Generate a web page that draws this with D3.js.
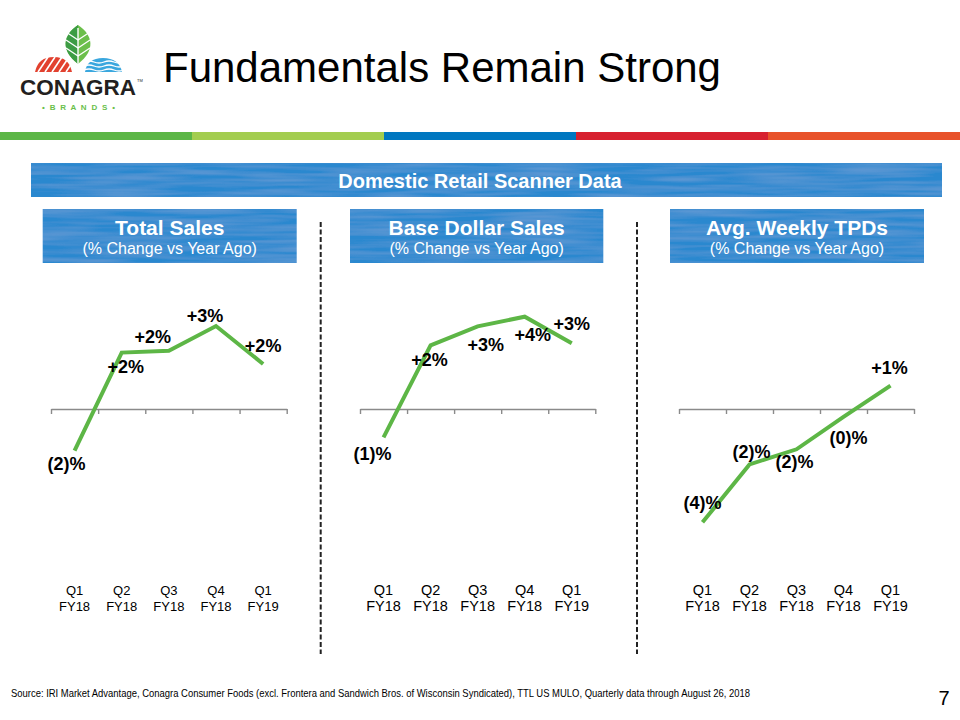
<!DOCTYPE html>
<html>
<head>
<meta charset="utf-8">
<script src="https://cdn.jsdelivr.net/npm/d3@7/dist/d3.min.js"></script>
<style>
  html, body { margin: 0; padding: 0; background: #fff; }
  svg { display: block; font-family: "Liberation Sans", Arial, Helvetica, sans-serif; }
</style>
</head>
<body>
<svg id="chart" width="960" height="720"></svg>
<script>
// ---------------- DATA ----------------
const quarters = ["Q1", "Q2", "Q3", "Q4", "Q1"];
const fiscalYears = ["FY18", "FY18", "FY18", "FY18", "FY19"];

const panelTitles = ["Total Sales", "Base Dollar Sales", "Avg. Weekly TPDs"];
const panelSubtitle = "(% Change vs Year Ago)";

const totalSales = [-1.6, 2.17, 2.24, 3.19, 1.73];
const totalSalesLabels = ["(2)%", "+2%", "+2%", "+3%", "+2%"];

const baseDollarSales = [-1.09, 2.45, 3.18, 3.55, 2.53];
const baseDollarLabels = ["(1)%", "+2%", "+3%", "+4%", "+3%"];

const weeklyTPDs = [-4.36, -2.13, -1.55, -0.3, 0.9];
const weeklyTPDLabels = ["(4)%", "(2)%", "(2)%", "(0)%", "+1%"];

const pageTitle = "Fundamentals Remain Strong";
const bannerText = "Domestic Retail Scanner Data";
const sourceText = "Source: IRI Market Advantage, Conagra Consumer Foods (excl. Frontera and Sandwich Bros. of Wisconsin Syndicated), TTL US MULO, Quarterly data through August 26, 2018";
const pageNumber = "7";

// ---------------- LAYOUT (positions / styling) ----------------
const panels = [
  { values: totalSales, labels: totalSalesLabels, x0: 51, x1: 286.7, hdr: [42.7, 296.7], tickFont: 13,
    offsets: [[-8, 19], [4, 20], [-16, -8], [-11, -4], [0, -12]] },
  { values: baseDollarSales, labels: baseDollarLabels, x0: 360, x1: 595.3, hdr: [350, 603.3], tickFont: 14.5,
    offsets: [[-11, 23], [-1, 21], [8, 25], [8, 24], [0, -13]] },
  { values: weeklyTPDs, labels: weeklyTPDLabels, x0: 679, x1: 914, hdr: [670, 924], tickFont: 14.5,
    offsets: [[0, -13], [2, -6], [-2, 19], [5, 27], [-1, -12]] }
];
const colorBar = ["#5cb646", "#a3cd4f", "#0077c0", "#d7212f", "#e8522a"];
const blue = "#2a88cf";
const lineGreen = "#5db646";

const svg = d3.select("#chart");
const defs = svg.append("defs");

// subtle chalky texture filter for the blue banners
const f = defs.append("filter").attr("id", "chalk").attr("x", 0).attr("y", 0).attr("width", 1).attr("height", 1);
f.append("feTurbulence").attr("type", "fractalNoise").attr("baseFrequency", "0.012 0.22")
  .attr("numOctaves", 2).attr("seed", 4).attr("result", "n");
f.append("feColorMatrix").attr("in", "n").attr("type", "matrix")
  .attr("values", "0 0 0 0 1  0 0 0 0 1  0 0 0 0 1  0.16 0 0 0 -0.05").attr("result", "w");
f.append("feComposite").attr("in", "w").attr("in2", "SourceGraphic").attr("operator", "in").attr("result", "wc");
const fm = f.append("feMerge");
fm.append("feMergeNode").attr("in", "SourceGraphic");
fm.append("feMergeNode").attr("in", "wc");

// ---------------- LOGO ----------------
const logo = svg.append("g");
// red mound
logo.append("path").attr("d", "M35,72 Q38,57 54,57 Q69,57 72,72 Z").attr("fill", "#e2412f");
[0, 7, 14, 21, 28].forEach(d => {
  logo.append("line").attr("x1", 38 + d).attr("y1", 72).attr("x2", 48 + d).attr("y2", 57)
    .attr("stroke", "#fff").attr("stroke-width", 1.6);
});
// blue mound
logo.append("path").attr("d", "M85,72 Q87,58 103,58 Q119,58 122,72 Z").attr("fill", "#3aa7de");
[62, 66, 70].forEach(yy => {
  logo.append("path").attr("d", `M84,${yy} q5,-2 10,0 t10,0 t10,0 t10,0`)
    .attr("fill", "none").attr("stroke", "#fff").attr("stroke-width", 1.3);
});
// leaf
logo.append("path").attr("d", "M78,25 C93,35 96,50 78,64 C60,50 63,35 78,25 Z").attr("fill", "#6cbf4b");
logo.append("path").attr("d", "M78,25 C63,35 60,50 78,64 Z").attr("fill", "#3d9c44");
logo.append("line").attr("x1", 78).attr("y1", 28).attr("x2", 78).attr("y2", 64).attr("stroke", "#fff").attr("stroke-width", 1.4);
[36, 44, 52].forEach(yy => {
  logo.append("path").attr("d", `M66,${yy - 4} L78,${yy + 4} L90,${yy - 4}`)
    .attr("fill", "none").attr("stroke", "#fff").attr("stroke-width", 1.3);
});
logo.append("text").attr("x", 20).attr("y", 95).attr("textLength", 116).attr("lengthAdjust", "spacingAndGlyphs")
  .attr("font-size", 22).attr("font-weight", "bold").attr("fill", "#231f20").text("CONAGRA");
logo.append("text").attr("x", 137).attr("y", 82).attr("font-size", 4).attr("fill", "#231f20").text("TM");
logo.append("text").attr("x", 42).attr("y", 110).attr("textLength", 73).attr("lengthAdjust", "spacing")
  .attr("font-size", 8).attr("font-weight", "bold").attr("fill", "#6abf4b").text("• B R A N D S •");

// ---------------- TITLE ----------------
svg.append("text").attr("x", 163).attr("y", 82).attr("font-size", 42).attr("fill", "#000").text(pageTitle);

// color bar
const barX = d3.scaleBand().domain(d3.range(colorBar.length)).range([0, 960]);
svg.append("g").selectAll("rect").data(colorBar).join("rect")
  .attr("x", (d, i) => barX(i)).attr("y", 132).attr("width", barX.bandwidth() + 0.5).attr("height", 8)
  .attr("fill", d => d);

// banner
svg.append("rect").attr("x", 31).attr("y", 163).attr("width", 911).attr("height", 34)
  .attr("fill", blue).attr("filter", "url(#chalk)");
svg.append("text").attr("x", 480).attr("y", 188).attr("text-anchor", "middle")
  .attr("font-size", 20).attr("font-weight", "bold").attr("fill", "#fff").text(bannerText);

// dashed separators
[320.7, 637].forEach(x => {
  svg.append("line").attr("x1", x).attr("x2", x).attr("y1", 222).attr("y2", 654)
    .attr("stroke", "#222").attr("stroke-width", 2).attr("stroke-dasharray", "5,2.5");
});

// shared y scale
const y = d3.scaleLinear().domain([-5, 5]).range([539, 279]);

panels.forEach((p, pi) => {
  const g = svg.append("g");
  // header
  g.append("rect").attr("x", p.hdr[0]).attr("y", 209).attr("width", p.hdr[1] - p.hdr[0]).attr("height", 54)
    .attr("fill", blue).attr("filter", "url(#chalk)");
  const hc = (p.hdr[0] + p.hdr[1]) / 2;
  g.append("text").attr("x", hc).attr("y", 235).attr("text-anchor", "middle")
    .attr("font-size", 21).attr("font-weight", "bold").attr("fill", "#fff").text(panelTitles[pi]);
  g.append("text").attr("x", hc).attr("y", 254).attr("text-anchor", "middle")
    .attr("font-size", 16).attr("fill", "#fff").text(panelSubtitle);

  // x scales
  const xb = d3.scaleBand().domain(d3.range(p.values.length)).range([p.x0, p.x1]);
  const xEdge = d3.scaleLinear().domain([0, p.values.length]).range([p.x0, p.x1]);

  // axis at zero
  const axis = g.append("g").attr("transform", `translate(0,${y(0)})`)
    .call(d3.axisBottom(xEdge).tickValues(d3.range(p.values.length + 1)).tickSize(5).tickSizeOuter(0).tickFormat(""));
  axis.selectAll("path, line").attr("stroke", "#8a8a8a").attr("stroke-width", 1.4);

  // line
  const line = d3.line().x((d, i) => xb(i) + xb.bandwidth() / 2).y(d => y(d));
  g.append("path").datum(p.values).attr("d", line).attr("fill", "none")
    .attr("stroke", lineGreen).attr("stroke-width", 4).attr("stroke-linejoin", "miter");

  // data labels
  g.selectAll("text.lbl").data(p.values).join("text").attr("class", "lbl")
    .attr("x", (d, i) => xb(i) + xb.bandwidth() / 2 + p.offsets[i][0])
    .attr("y", (d, i) => y(d) + p.offsets[i][1])
    .attr("text-anchor", "middle").attr("font-size", 18).attr("font-weight", "bold").attr("fill", "#000")
    .text((d, i) => p.labels[i]);

  // category labels
  g.selectAll("text.q").data(quarters).join("text").attr("class", "q")
    .attr("x", (d, i) => xb(i) + xb.bandwidth() / 2).attr("y", 595)
    .attr("text-anchor", "middle").attr("font-size", p.tickFont).attr("fill", "#000").text(d => d);
  g.selectAll("text.fy").data(fiscalYears).join("text").attr("class", "fy")
    .attr("x", (d, i) => xb(i) + xb.bandwidth() / 2).attr("y", 611)
    .attr("text-anchor", "middle").attr("font-size", p.tickFont).attr("fill", "#000").text(d => d);
});

// footer
svg.append("text").attr("x", 11).attr("y", 697).attr("font-size", 11)
  .attr("textLength", 739).attr("lengthAdjust", "spacingAndGlyphs").attr("fill", "#000").text(sourceText);
svg.append("text").attr("x", 944).attr("y", 705).attr("text-anchor", "middle").attr("font-size", 20).attr("fill", "#000").text(pageNumber);
</script>
</body>
</html>
